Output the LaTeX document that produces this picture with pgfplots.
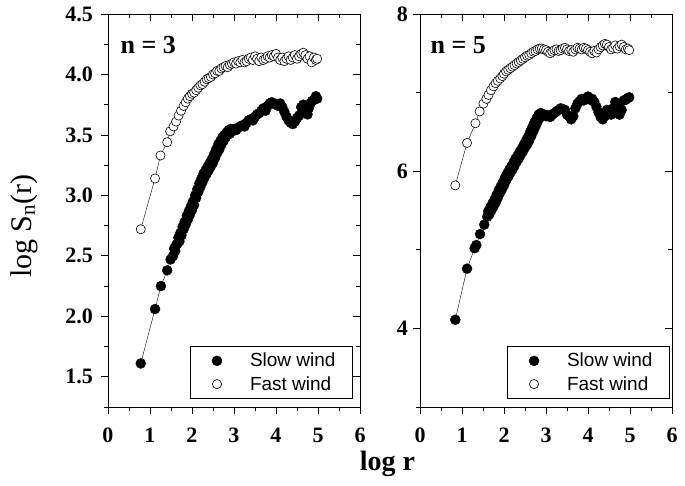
\documentclass[border=0pt]{standalone}
\usepackage{fontspec}
\setmainfont{Liberation Serif}
\setsansfont{Liberation Sans}
\usepackage{pgfplots}
\pgfplotsset{compat=1.18}

\pgfplotsset{
  panel/.style={
    width=252pt, height=393pt, scale only axis,
    xmin=0, xmax=6, xtick={0,...,6}, minor x tick num=1,
    axis line style={line width=0.9pt},
    tick style={line width=0.8pt, black},
    tick align=center,
    major tick length=7pt, minor tick length=4pt,
    every major x tick/.append style={yshift=-3.5pt},
    every minor x tick/.append style={yshift=-2pt},
    every major y tick/.append style={xshift=-3.5pt},
    every minor y tick/.append style={xshift=-2pt},
    ticklabel style={font=\bfseries\fontsize{22}{22}\selectfont},
    xticklabel style={yshift=-14pt},
    yticklabel style={xshift=-8pt},
    /pgf/number format/assume math mode=true,
    legend style={draw=black, line width=0.8pt, anchor=south east,
      font=\sffamily\fontsize{19}{19}\selectfont,
      inner xsep=2pt, inner ysep=5pt, row sep=4pt,
      nodes={inner sep=2pt}},
    legend cell align=left,
  },
  dotlegend/.style={legend image code/.code={
      \path[draw=none] (0pt,0pt) -- (56pt,0pt);
      \draw[##1] plot coordinates {(25pt,0pt)};}},
  slow/.style={black, line width=0.4pt, mark=*, mark size=5pt,
    mark options={fill=black, line width=0.4pt}, dotlegend},
  fast/.style={black, line width=0.4pt, mark=*, mark size=4.6pt,
    mark options={fill=white, line width=0.6pt}, dotlegend},
}

\begin{document}
\begin{tikzpicture}
\useasboundingbox (-108pt,-78pt) rectangle (577pt,407pt);

% n = 3
\begin{axis}[panel, at={(0pt,0pt)}, anchor=south west,
    ymin=1.25, ymax=4.5,
    ytick={1.5,2.0,2.5,3.0,3.5,4.0,4.5},
    minor ytick={1.25,1.75,2.25,2.75,3.25,3.75,4.25},
    yticklabel style={/pgf/number format/.cd, fixed, fixed zerofill, precision=1},
    xlabel={log r},
    xlabel style={at={(axis description cs:1.109,-0.145)}, anchor=center,
      font=\bfseries\fontsize{28}{28}\selectfont},
    ylabel={log S\textsubscript{n}(r)},
    ylabel style={at={(axis description cs:-0.333,0.46)}, anchor=center,
      font=\fontsize{30}{30}\selectfont},
    legend style={at={(axis description cs:0.972,0.02)}},
  ]
\addplot[slow] coordinates {
(0.78,1.61) (1.12,2.06) (1.26,2.25) (1.41,2.38) (1.49,2.47)
(1.55,2.50) (1.575,2.56) (1.60,2.54) (1.625,2.59) (1.65,2.60)
(1.675,2.65) (1.70,2.62) (1.725,2.69) (1.75,2.67) (1.775,2.74)
(1.80,2.72) (1.825,2.78) (1.85,2.76) (1.875,2.83) (1.90,2.80)
(1.925,2.87) (1.95,2.84) (1.975,2.91) (2.00,2.88) (2.025,2.95)
(2.05,2.92) (2.075,3.00) (2.10,2.98) (2.125,3.05) (2.15,3.03)
(2.175,3.10) (2.20,3.07) (2.225,3.14) (2.25,3.11) (2.275,3.18)
(2.30,3.15) (2.325,3.21) (2.35,3.18) (2.375,3.24) (2.40,3.21)
(2.425,3.27) (2.45,3.24) (2.475,3.30) (2.50,3.27) (2.525,3.34)
(2.55,3.31) (2.575,3.38) (2.60,3.35) (2.625,3.42) (2.65,3.38)
(2.675,3.45) (2.70,3.42) (2.725,3.48) (2.75,3.45) (2.775,3.50)
(2.80,3.48) (2.825,3.52) (2.85,3.50) (2.875,3.54) (2.90,3.51)
(2.925,3.55) (2.95,3.53) (3.00,3.55)
(3.05,3.54) (3.10,3.56) (3.15,3.57) (3.20,3.58) (3.25,3.57)
(3.30,3.60) (3.35,3.62) (3.40,3.63) (3.45,3.62) (3.50,3.65)
(3.55,3.67) (3.60,3.68) (3.65,3.70) (3.70,3.72) (3.75,3.70)
(3.80,3.74) (3.85,3.76) (3.90,3.77) (3.95,3.76) (4.00,3.75)
(4.05,3.74) (4.10,3.76) (4.15,3.73) (4.20,3.69) (4.25,3.65)
(4.30,3.62) (4.35,3.60) (4.40,3.59) (4.45,3.61) (4.50,3.64)
(4.55,3.66) (4.60,3.73) (4.65,3.75) (4.70,3.70) (4.75,3.67)
(4.78,3.72) (4.82,3.76) (4.86,3.78) (4.90,3.79) (4.95,3.82)
(4.98,3.80)
};
\addplot[fast] coordinates {
(0.78,2.72) (1.12,3.14) (1.25,3.33) (1.41,3.44) (1.48,3.53)
(1.56,3.57) (1.62,3.61) (1.68,3.66) (1.74,3.70) (1.80,3.74)
(1.85,3.77) (1.90,3.80) (1.95,3.82) (2.00,3.84) (2.05,3.85)
(2.10,3.87) (2.15,3.89) (2.20,3.91) (2.25,3.92) (2.30,3.94)
(2.35,3.96) (2.40,3.97) (2.45,3.98) (2.50,4.00) (2.55,4.01)
(2.60,4.03) (2.65,4.03) (2.70,4.05) (2.75,4.06) (2.80,4.07)
(2.85,4.06) (2.90,4.08) (2.95,4.09) (3.00,4.10) (3.05,4.09)
(3.10,4.11) (3.15,4.10) (3.20,4.12) (3.25,4.10) (3.30,4.11)
(3.35,4.13) (3.40,4.14) (3.45,4.12) (3.50,4.15) (3.55,4.13)
(3.60,4.11) (3.65,4.14) (3.70,4.12) (3.75,4.13) (3.80,4.15)
(3.85,4.14) (3.90,4.16) (3.95,4.15) (4.00,4.17) (4.05,4.14)
(4.10,4.12) (4.15,4.14) (4.20,4.11) (4.25,4.13) (4.30,4.15)
(4.35,4.12) (4.40,4.14) (4.45,4.16) (4.50,4.13) (4.55,4.15)
(4.60,4.17) (4.65,4.18) (4.70,4.16) (4.75,4.13) (4.80,4.15)
(4.85,4.10) (4.90,4.14) (4.95,4.12) (4.98,4.13)
};
\legend{Slow wind\hspace*{13pt}, Fast wind\hspace*{13pt}}
\node[anchor=base west, font=\bfseries\fontsize{26}{26}\selectfont]
  at (axis description cs:0.036,0.90) {n = 3};
\end{axis}

% n = 5
\begin{axis}[panel, at={(312pt,0pt)}, anchor=south west,
    ymin=3, ymax=8,
    ytick={4,6,8}, minor ytick={3,5,7},
    yticklabel style={xshift=3pt},
    legend style={at={(axis description cs:0.992,0.02)}},
  ]
\addplot[slow] coordinates {
(0.84,4.11) (1.12,4.76) (1.30,5.02) (1.34,5.06) (1.43,5.20)
(1.53,5.32) (1.60,5.42) (1.625,5.49) (1.65,5.45) (1.675,5.54)
(1.70,5.50) (1.725,5.59) (1.75,5.55) (1.775,5.64) (1.80,5.60)
(1.825,5.70) (1.85,5.66) (1.875,5.76) (1.90,5.72) (1.925,5.81)
(1.95,5.77) (1.975,5.86) (2.00,5.82) (2.025,5.92) (2.05,5.88)
(2.075,5.97) (2.10,5.93) (2.125,6.02) (2.15,5.98) (2.175,6.06)
(2.20,6.02) (2.225,6.11) (2.25,6.07) (2.275,6.16) (2.30,6.12)
(2.325,6.20) (2.35,6.16) (2.375,6.25) (2.40,6.21) (2.425,6.29)
(2.45,6.25) (2.475,6.34) (2.50,6.30) (2.525,6.39) (2.55,6.34)
(2.575,6.44) (2.60,6.39) (2.625,6.50) (2.65,6.45) (2.675,6.56)
(2.70,6.51) (2.725,6.62) (2.75,6.57) (2.775,6.67) (2.80,6.63)
(2.825,6.72) (2.85,6.68) (2.875,6.74) (2.90,6.71)
(2.95,6.72) (3.00,6.70)
(3.05,6.71) (3.10,6.69) (3.15,6.72) (3.20,6.74) (3.25,6.76)
(3.30,6.78) (3.35,6.80) (3.40,6.79) (3.45,6.78) (3.50,6.72)
(3.55,6.70) (3.60,6.66) (3.65,6.70) (3.70,6.80) (3.75,6.86)
(3.80,6.89) (3.85,6.92) (3.90,6.90) (3.95,6.93) (4.00,6.95)
(4.05,6.91) (4.10,6.92) (4.15,6.88) (4.20,6.82) (4.25,6.75)
(4.30,6.69) (4.35,6.66) (4.40,6.70) (4.45,6.78) (4.50,6.76)
(4.55,6.72) (4.60,6.80) (4.65,6.88) (4.70,6.86) (4.75,6.72)
(4.80,6.78) (4.85,6.90) (4.90,6.91) (4.95,6.93) (4.98,6.94)
};
\addplot[fast] coordinates {
(0.84,5.82) (1.12,6.36) (1.32,6.61) (1.42,6.76) (1.51,6.86)
(1.58,6.92) (1.63,6.97) (1.69,7.03) (1.75,7.08) (1.80,7.12)
(1.85,7.15) (1.91,7.18) (1.96,7.21) (2.00,7.24) (2.05,7.27)
(2.10,7.29) (2.15,7.31) (2.20,7.33) (2.25,7.35) (2.30,7.37)
(2.35,7.39) (2.40,7.41) (2.45,7.43) (2.50,7.45) (2.55,7.47)
(2.60,7.48) (2.65,7.50) (2.70,7.52) (2.75,7.53) (2.80,7.55)
(2.85,7.56) (2.90,7.56) (2.95,7.55) (3.00,7.54) (3.05,7.52)
(3.10,7.50) (3.15,7.52) (3.20,7.54) (3.25,7.55) (3.30,7.53)
(3.35,7.54) (3.40,7.56) (3.45,7.57) (3.50,7.55) (3.55,7.53)
(3.60,7.54) (3.65,7.52) (3.70,7.55) (3.75,7.57) (3.80,7.56)
(3.85,7.55) (3.90,7.57) (3.95,7.56) (4.00,7.54) (4.05,7.52)
(4.10,7.50) (4.15,7.53) (4.20,7.51) (4.25,7.55) (4.30,7.58)
(4.35,7.60) (4.40,7.62) (4.45,7.61) (4.50,7.58) (4.55,7.55)
(4.60,7.57) (4.65,7.60) (4.70,7.56) (4.75,7.59) (4.80,7.61)
(4.85,7.58) (4.90,7.55) (4.95,7.56) (4.98,7.54)
};
\legend{Slow wind\hspace*{13pt}, Fast wind\hspace*{13pt}}
\node[anchor=base west, font=\bfseries\fontsize{26}{26}\selectfont]
  at (axis description cs:0.028,0.90) {n = 5};
\end{axis}
\end{tikzpicture}
\end{document}
